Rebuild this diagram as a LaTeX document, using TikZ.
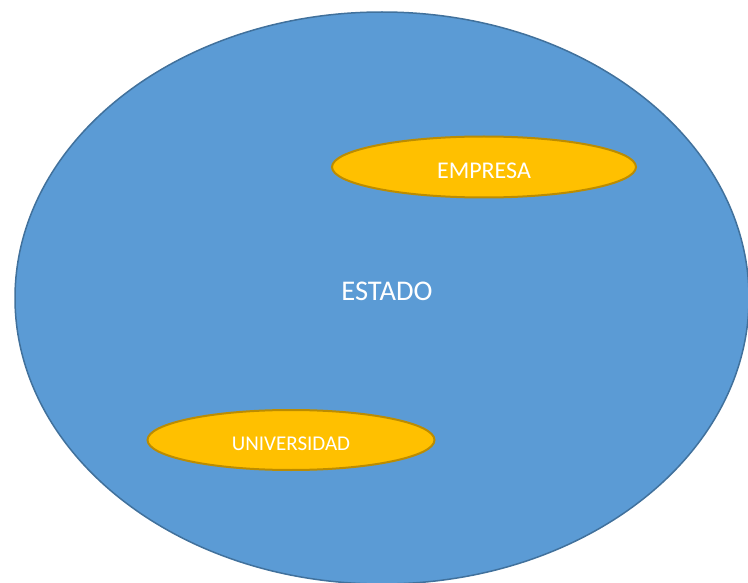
\documentclass[tikz,border=0pt]{standalone}
\usepackage{fontspec}
\setmainfont{Carlito}
\usetikzlibrary{shapes.geometric}
\definecolor{bluefill}{HTML}{5B9BD5}
\definecolor{bluedraw}{HTML}{41719C}
\definecolor{orfill}{HTML}{FFC000}
\definecolor{ordraw}{HTML}{BC8C00}
\tikzset{
  big/.style={ellipse, fill=bluefill, draw=bluedraw, line width=1.5pt, inner sep=0pt},
  small/.style={ellipse, fill=orfill, draw=ordraw, line width=2pt, inner sep=0pt},
  lbl/.style={text=white, inner sep=0pt},
}
\begin{document}
\begin{tikzpicture}[x=1pt,y=-1pt]
\useasboundingbox (0,0) rectangle (748,583);
\clip (0,0) rectangle (748,583);
\node[big, minimum width=734pt, minimum height=572pt] (estado) at (382,298) {};
\node[lbl, font=\fontsize{28.5}{30}\selectfont] (estadolbl) at (387,291) {ESTADO};
\node[small, minimum width=304pt, minimum height=61pt] (empresa) at (484,167) {};
\node[lbl, font=\fontsize{24}{26}\selectfont] (empresalbl) at ([yshift=-4pt]empresa.center) {EMPRESA};
\node[small, minimum width=287pt, minimum height=60pt] (univ) at (291,440) {};
\node[lbl, font=\fontsize{21}{23}\selectfont] (univlbl) at ([yshift=-4pt]univ.center) {UNIVERSIDAD};
\end{tikzpicture}
\end{document}
